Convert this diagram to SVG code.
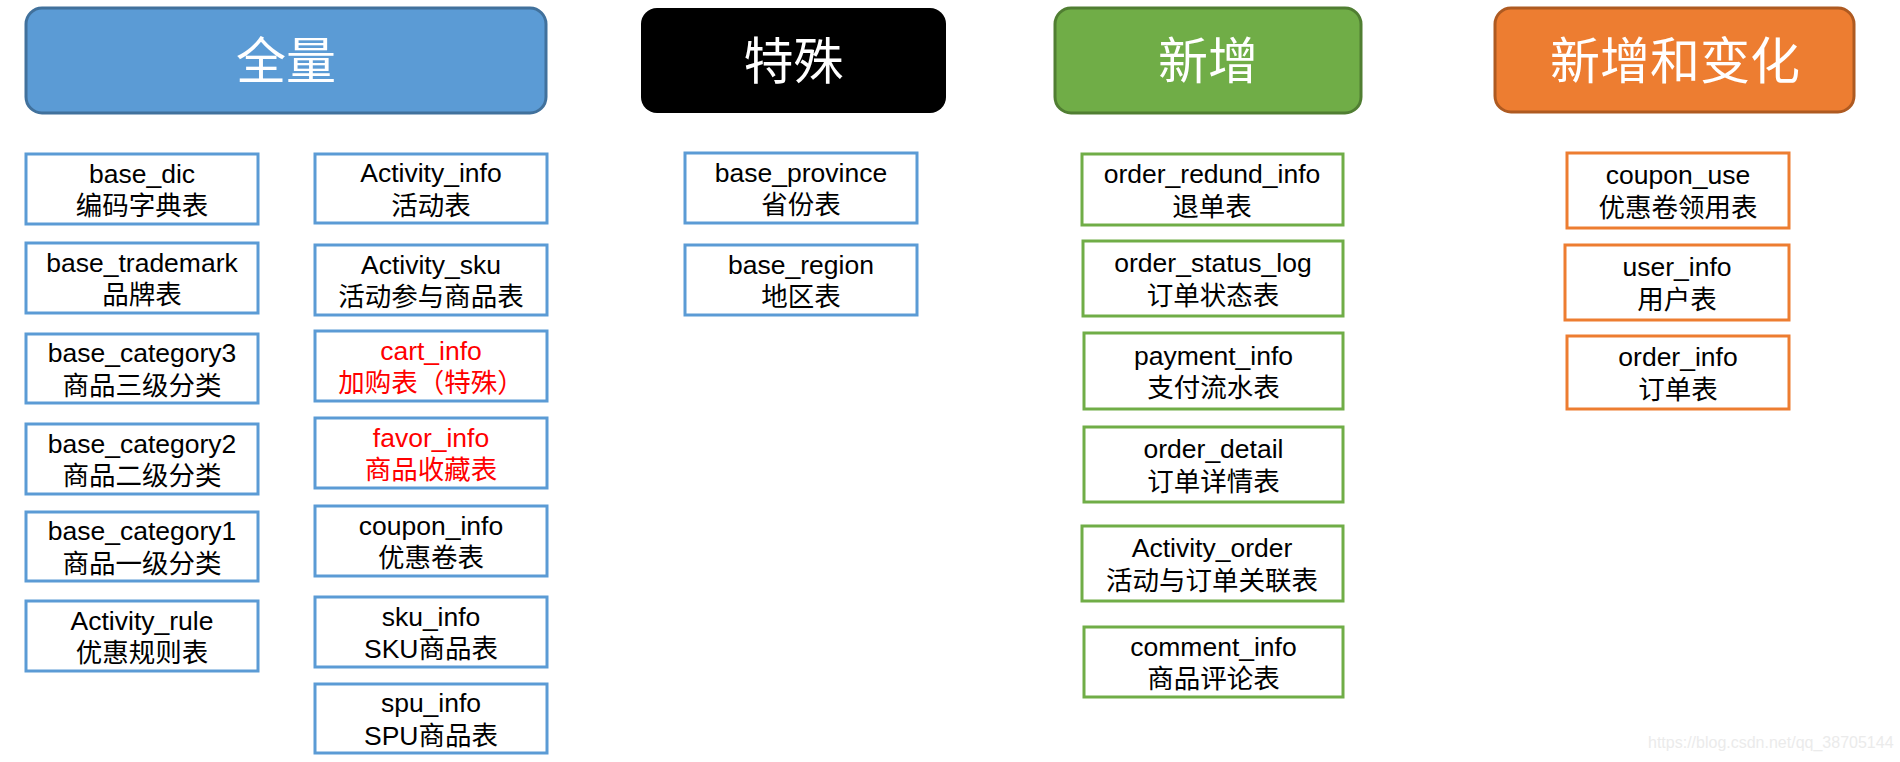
<svg xmlns="http://www.w3.org/2000/svg" width="1900" height="762" viewBox="0 0 1900 762">
<style>
  text { font-family: "Liberation Sans", "Noto Sans CJK SC", sans-serif; text-anchor: middle; }
  .hd text { font-family: "Noto Sans CJK SC", sans-serif; font-size: 50px; fill: #ffffff; }
  .t { font-size: 26.5px; fill: #000000; }
  .red { fill: #ff0000; }
  .b rect { fill: #ffffff; stroke: #5B9BD5; stroke-width: 3; }
  .g rect { fill: #ffffff; stroke: #70AD47; stroke-width: 3; }
  .o rect { fill: #ffffff; stroke: #ED7D31; stroke-width: 3; }
  .wm { font-size: 16px; fill: #ebebeb; text-anchor: start; }
</style>
<rect width="1900" height="762" fill="#ffffff"/>

<g class="hd" id="hdr-full">
  <rect x="26" y="8" width="520" height="105" rx="16" fill="#5B9BD5" stroke="#41719C" stroke-width="3"/>
  <text x="286" y="79">全量</text>
</g>
<g class="hd" id="hdr-special">
  <rect x="641" y="8" width="305" height="105" rx="16" fill="#000000"/>
  <text x="793.5" y="79">特殊</text>
</g>
<g class="hd" id="hdr-new">
  <rect x="1055" y="8" width="306" height="105" rx="16" fill="#70AD47" stroke="#507E32" stroke-width="3"/>
  <text x="1208" y="79">新增</text>
</g>
<g class="hd" id="hdr-newchg">
  <rect x="1495" y="8" width="359" height="104" rx="16" fill="#ED7D31" stroke="#AE5A21" stroke-width="3"/>
  <text x="1675" y="79">新增和变化</text>
</g>

<!-- Column 1 -->
<g class="b" id="base_dic"><rect x="26" y="154" width="232" height="70"/><text class="t" x="142" y="183">base_dic</text><text class="t" x="142" y="215">编码字典表</text></g>
<g class="b" id="base_trademark"><rect x="26" y="243" width="232" height="70"/><text class="t" x="142" y="272">base_trademark</text><text class="t" x="142" y="304">品牌表</text></g>
<g class="b" id="base_category3"><rect x="26" y="334" width="232" height="69"/><text class="t" x="142" y="362">base_category3</text><text class="t" x="142" y="394.5">商品三级分类</text></g>
<g class="b" id="base_category2"><rect x="26" y="424" width="232" height="70"/><text class="t" x="142" y="452.5">base_category2</text><text class="t" x="142" y="485">商品二级分类</text></g>
<g class="b" id="base_category1"><rect x="26" y="512" width="232" height="69"/><text class="t" x="142" y="540">base_category1</text><text class="t" x="142" y="572.5">商品一级分类</text></g>
<g class="b" id="activity_rule"><rect x="26" y="601" width="232" height="70"/><text class="t" x="142" y="629.5">Activity_rule</text><text class="t" x="142" y="662">优惠规则表</text></g>

<!-- Column 2 -->
<g class="b" id="activity_info"><rect x="315" y="154" width="232" height="69"/><text class="t" x="431" y="182">Activity_info</text><text class="t" x="431" y="214.5">活动表</text></g>
<g class="b" id="activity_sku"><rect x="315" y="245" width="232" height="70"/><text class="t" x="431" y="273.5">Activity_sku</text><text class="t" x="431" y="306">活动参与商品表</text></g>
<g class="b" id="cart_info"><rect x="315" y="331" width="232" height="70"/><text class="t red" x="431" y="359.5">cart_info</text><text class="t red" x="431" y="392">加购表（特殊）</text></g>
<g class="b" id="favor_info"><rect x="315" y="418" width="232" height="70"/><text class="t red" x="431" y="446.5">favor_info</text><text class="t red" x="431" y="479">商品收藏表</text></g>
<g class="b" id="coupon_info"><rect x="315" y="506" width="232" height="70"/><text class="t" x="431" y="534.5">coupon_info</text><text class="t" x="431" y="567">优惠卷表</text></g>
<g class="b" id="sku_info"><rect x="315" y="597" width="232" height="70"/><text class="t" x="431" y="625.5">sku_info</text><text class="t" x="431" y="658">SKU商品表</text></g>
<g class="b" id="spu_info"><rect x="315" y="684" width="232" height="69"/><text class="t" x="431" y="712">spu_info</text><text class="t" x="431" y="744.5">SPU商品表</text></g>

<!-- Special -->
<g class="b" id="base_province"><rect x="685" y="153" width="232" height="70"/><text class="t" x="801" y="181.5">base_province</text><text class="t" x="801" y="214">省份表</text></g>
<g class="b" id="base_region"><rect x="685" y="245" width="232" height="70"/><text class="t" x="801" y="273.5">base_region</text><text class="t" x="801" y="306">地区表</text></g>

<!-- New -->
<g class="g" id="order_redund_info"><rect x="1082" y="154" width="261" height="71"/><text class="t" x="1212" y="183">order_redund_info</text><text class="t" x="1212" y="215.5">退单表</text></g>
<g class="g" id="order_status_log"><rect x="1083" y="241" width="260" height="75"/><text class="t" x="1213" y="272">order_status_log</text><text class="t" x="1213" y="304.5">订单状态表</text></g>
<g class="g" id="payment_info"><rect x="1084" y="333" width="259" height="76"/><text class="t" x="1213.5" y="364.5">payment_info</text><text class="t" x="1213.5" y="397">支付流水表</text></g>
<g class="g" id="order_detail"><rect x="1084" y="427" width="259" height="75"/><text class="t" x="1213.5" y="458">order_detail</text><text class="t" x="1213.5" y="490.5">订单详情表</text></g>
<g class="g" id="activity_order"><rect x="1082" y="526" width="261" height="75"/><text class="t" x="1212" y="557">Activity_order</text><text class="t" x="1212" y="589.5">活动与订单关联表</text></g>
<g class="g" id="comment_info"><rect x="1084" y="627" width="259" height="70"/><text class="t" x="1213.5" y="655.5">comment_info</text><text class="t" x="1213.5" y="688">商品评论表</text></g>

<!-- New and changed -->
<g class="o" id="coupon_use"><rect x="1567" y="153" width="222" height="75"/><text class="t" x="1678" y="184">coupon_use</text><text class="t" x="1678" y="216.5">优惠卷领用表</text></g>
<g class="o" id="user_info"><rect x="1565" y="245" width="224" height="75"/><text class="t" x="1677" y="276">user_info</text><text class="t" x="1677" y="308.5">用户表</text></g>
<g class="o" id="order_info"><rect x="1567" y="336" width="222" height="73"/><text class="t" x="1678" y="366">order_info</text><text class="t" x="1678" y="398.5">订单表</text></g>

<g id="connectors"></g>

<text class="wm" x="1648" y="748">https://blog.csdn.net/qq_38705144</text>
</svg>
